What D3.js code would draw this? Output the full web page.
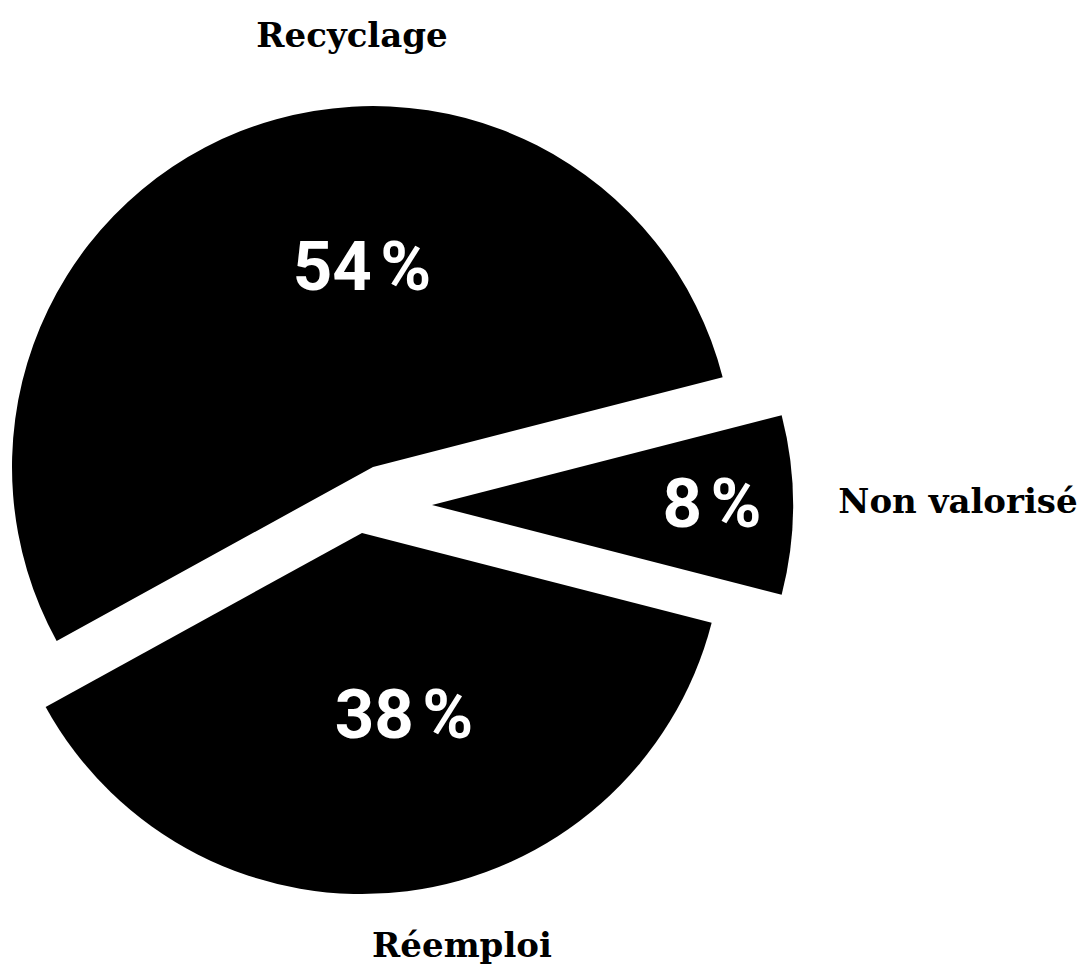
<!DOCTYPE html>
<html>
<head>
<meta charset="utf-8">
<script src="https://cdn.jsdelivr.net/npm/d3@7"></script>
<style>
  body { margin: 0; background: #fff; }
  svg { display: block; }
</style>
</head>
<body>
<svg width="1083" height="968"></svg>
<script>
// Data
const categories = ["Recyclage", "Non valorisé", "Réemploi"];
const values = [54, 8, 38];

// Layout (pixels): pie centre, radius, per-slice explode and label offsets
const center = { x: 390, y: 505 };
const radius = 361;
const explode = [[-17, -38], [42, 0], [-28, 28]];
const valueLabelOffset = [[-11, -177], [280, 22], [42, 205]];
const nameLabelOffset = [[-21, -420], [526, 8], [100, 424]];

const svg = d3.select("svg");
const total = d3.sum(values);

// Put the small slice centred on the right-hand horizontal
const start = Math.PI / 2 - 2 * Math.PI * (values[0] + values[1] / 2) / total;

const pie = d3.pie()
    .sort(null)
    .startAngle(start)
    .endAngle(start + 2 * Math.PI)
    .value(d => d.value);

const arc = d3.arc()
    .innerRadius(0)
    .outerRadius(radius);

const rows = categories.map((c, i) => ({ name: c, value: values[i], i }));

const slices = svg.selectAll("g.slice")
    .data(pie(rows))
    .join("g")
    .attr("class", "slice")
    .attr("transform", d => `translate(${center.x + explode[d.data.i][0]}, ${center.y + explode[d.data.i][1]})`);

slices.append("path")
    .attr("d", arc)
    .attr("fill", "#000");

// Percent labels inside the slices
slices.append("text")
    .attr("x", d => valueLabelOffset[d.data.i][0])
    .attr("y", d => valueLabelOffset[d.data.i][1])
    .attr("text-anchor", "middle")
    .attr("fill", "#fff")
    .attr("font-family", "Roboto, sans-serif")
    .attr("font-weight", 700)
    .attr("font-size", 69)
    .text(d => d.data.value + "\u202F%");

// Category names outside
slices.append("text")
    .attr("x", d => nameLabelOffset[d.data.i][0])
    .attr("y", d => nameLabelOffset[d.data.i][1])
    .attr("text-anchor", "middle")
    .attr("fill", "#000")
    .attr("font-family", "'DejaVu Serif', serif")
    .attr("font-weight", 700)
    .attr("font-size", 34)
    .text(d => d.data.name);
</script>
</body>
</html>
